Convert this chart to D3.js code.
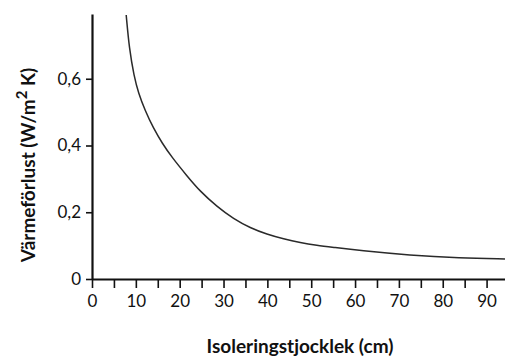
<!DOCTYPE html>
<html>
<head>
<meta charset="utf-8">
<script src="https://cdn.jsdelivr.net/npm/d3@7"></script>
<style>
  html, body { margin: 0; padding: 0; background: #fff; }
  svg { display: block; }
  text { font-family: "Lato", "DejaVu Sans", sans-serif; fill: #111; }
</style>
</head>
<body>
<svg id="chart" width="505" height="358"></svg>
<script>
// Insulation thickness (cm) and heat loss U-value (W/m² K)
const thickness = [7.8, 8.5, 9.6, 10.6, 12.1, 14.0, 16.0, 18.2, 21.6, 24.7, 28.5, 32.3, 36.1, 39.9, 43.7, 47.5, 51.3, 55.0, 61.1, 72.5, 83.9, 94.2];
const heatLoss  = [0.791, 0.690, 0.607, 0.557, 0.505, 0.452, 0.407, 0.365, 0.310, 0.262, 0.217, 0.180, 0.153, 0.134, 0.120, 0.109, 0.101, 0.095, 0.085, 0.071, 0.063, 0.060];

const xTickValues = [0, 10, 20, 30, 40, 50, 60, 70, 80, 90];
const xMinorTicks = [5, 15, 25, 35, 45, 55, 65, 75, 85];
const yTickValues = [0, 0.2, 0.4, 0.6];

const xTitle = "Isoleringstjocklek (cm)";
const yTitleMain = "Värmeförlust (W/m";
const yTitleSup = "2";
const yTitleEnd = " K)";

const margin = { left: 92, top: 14, bottom: 279 };
const svg = d3.select("#chart");

const x = d3.scaleLinear().domain([0, 94.2]).range([margin.left, 505]);
const y = d3.scaleLinear().domain([0, 0.794]).range([margin.bottom, margin.top]);

const fmt = d => d === 0 ? "0" : d3.format(".1f")(d).replace(".", ",");

// x axis: major ticks labelled, minor ticks at the fives
const xAxis = svg.append("g").attr("transform", `translate(0,${margin.bottom})`)
  .call(d3.axisBottom(x).tickValues(xTickValues.concat(xMinorTicks)).tickSize(9).tickSizeOuter(0)
    .tickFormat(d => xTickValues.includes(d) ? d : ""));
xAxis.select(".domain").attr("stroke", "#111").attr("stroke-width", 2.2);
xAxis.selectAll(".tick line").attr("stroke", "#111").attr("stroke-width", 1.6);
xAxis.selectAll(".tick text").attr("font-size", 17).attr("dy", "0.95em").attr("fill", "#111")
  .style("font-family", "Lato, sans-serif");

// y axis
const yAxis = svg.append("g").attr("transform", `translate(${margin.left},0)`)
  .call(d3.axisLeft(y).tickValues(yTickValues).tickSize(6).tickSizeOuter(0).tickFormat(fmt));
yAxis.select(".domain").attr("stroke", "#111").attr("stroke-width", 2.2);
yAxis.selectAll(".tick line").attr("stroke", "#111").attr("stroke-width", 1.6);
yAxis.selectAll(".tick text").attr("font-size", 17).attr("x", -11).attr("fill", "#111")
  .style("font-family", "Lato, sans-serif");

// heat loss curve
const line = d3.line()
  .x((d, i) => x(thickness[i]))
  .y(d => y(d))
  .curve(d3.curveBasis);
svg.append("path")
  .datum(heatLoss)
  .attr("d", line)
  .attr("fill", "none")
  .attr("stroke", "#2a2a2a")
  .attr("stroke-width", 1.5);

// axis titles
svg.append("text")
  .attr("x", 300).attr("y", 353)
  .attr("text-anchor", "middle")
  .attr("font-size", 19).attr("font-weight", "bold")
  .text(xTitle);

const yt = svg.append("text")
  .attr("transform", "translate(35,165) rotate(-90)")
  .attr("text-anchor", "middle")
  .attr("font-size", 19).attr("font-weight", "bold");
yt.append("tspan").text(yTitleMain);
yt.append("tspan").attr("font-size", 15).attr("dy", -8).text(yTitleSup);
yt.append("tspan").attr("dy", 8).text(yTitleEnd);
</script>
</body>
</html>
